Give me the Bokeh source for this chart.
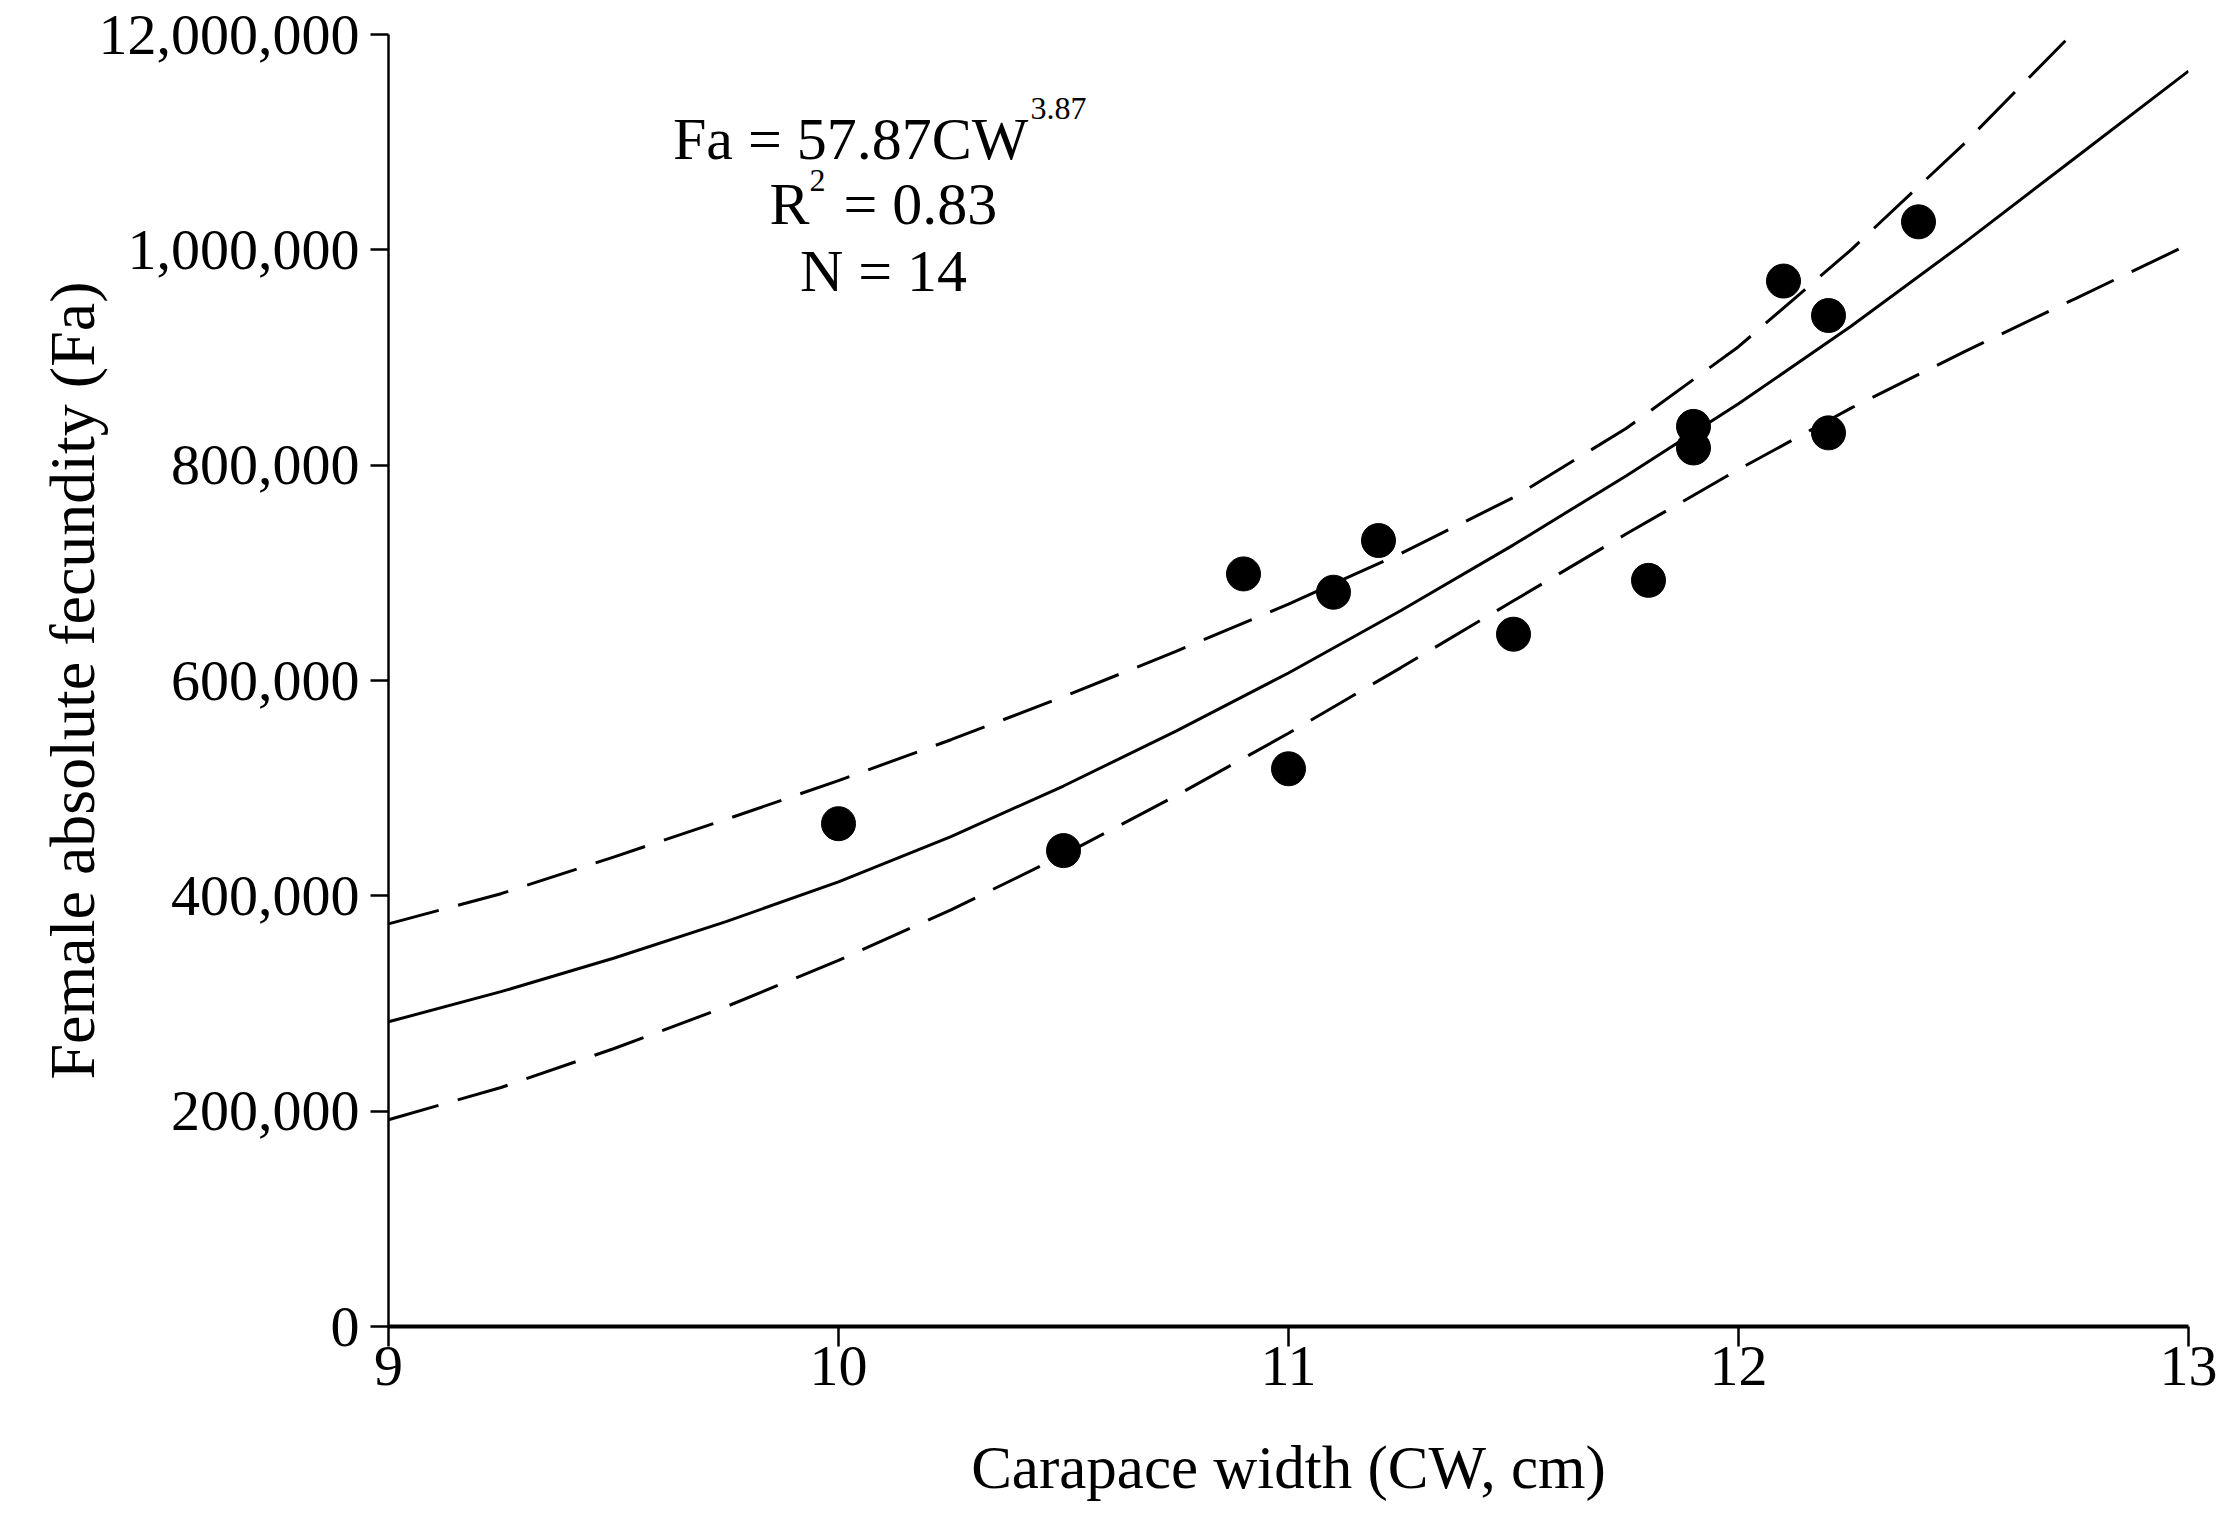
from bokeh.plotting import figure
from bokeh.models import Range1d, FixedTicker, Label
from bokeh.embed import file_html
from bokeh.resources import INLINE

# Observed data: carapace width (cm) and female absolute fecundity
cw = [10.0, 10.5, 10.9, 11.0, 11.1, 11.2, 11.5, 11.8, 11.9, 11.9, 12.1, 12.2, 12.2, 12.4]
fa = [467000, 442000, 699000, 518000, 682000, 730000, 643000, 693000,
      836000, 816000, 971000, 939000, 830000, 1026000]

# Fitted curve
fit_cw = [9.0, 9.25, 9.5, 9.75, 10.0, 10.25, 10.5, 10.75, 11.0,
          11.25, 11.5, 11.75, 12.0, 12.25, 12.5, 12.75, 13.0]
fit_fa = [283000, 311000, 342000, 376000, 413000, 455000, 502000, 553000, 607000,
          665000, 726000, 790000, 857000, 929000, 1006000, 1086000, 1166000]

# Upper dashed bound
upper_cw = [9.0, 9.25, 9.5, 9.75, 10.0, 10.25, 10.5, 10.75, 11.0,
            11.25, 11.5, 11.75, 12.0, 12.25, 12.5, 12.74]
upper_fa = [374000, 402000, 436000, 471000, 507000, 545000, 585000, 627000, 671000,
            718000, 770000, 834000, 910000, 1000000, 1098000, 1200000]

# Lower dashed bound
lower_cw = [9.0, 9.25, 9.5, 9.75, 10.0, 10.25, 10.5, 10.75, 11.0,
            11.25, 11.5, 11.75, 12.0, 12.25, 12.5, 12.75, 13.0]
lower_fa = [192000, 222000, 258000, 297000, 340000, 387000, 438000, 493000, 551000,
            612000, 674000, 736000, 796000, 853000, 905000, 955000, 1005000]

x_ticks = [9, 10, 11, 12, 13]
y_ticks = [0, 200000, 400000, 600000, 800000, 1000000, 1200000]
y_tick_labels = ["0", "200,000", "400,000", "600,000", "800,000", "1,000,000", "12,000,000"]

x_title = "Carapace width (CW, cm)"
y_title = "Female absolute fecundity (Fa)"

FONT = "Liberation Serif"

p = figure(width=2218, height=1510, output_backend="svg", toolbar_location=None,
           x_range=Range1d(9, 13), y_range=Range1d(0, 1200000),
           min_border_left=388, min_border_right=30,
           min_border_top=34, min_border_bottom=184)
p.outline_line_color = None
p.grid.visible = False
p.background_fill_color = "white"
p.border_fill_color = "white"

# x axis
xa = p.xaxis[0]
xa.ticker = FixedTicker(ticks=x_ticks)
xa.axis_line_width = 4
xa.axis_line_color = "black"
xa.major_tick_out = 20
xa.major_tick_in = 0
xa.minor_tick_out = 0
xa.minor_tick_in = 0
xa.major_tick_line_width = 2.5
xa.major_label_text_font = FONT
xa.major_label_text_font_size = "58px"
xa.major_label_text_color = "black"
xa.major_label_standoff = 0
xa.axis_label = x_title
xa.axis_label_text_font = FONT
xa.axis_label_text_font_size = "61px"
xa.axis_label_text_font_style = "normal"
xa.axis_label_text_color = "black"
xa.axis_label_standoff = 46

# y axis
ya = p.yaxis[0]
ya.ticker = FixedTicker(ticks=y_ticks)
ya.major_label_overrides = {t: s for t, s in zip(y_ticks, y_tick_labels)}
ya.axis_line_width = 2.5
ya.axis_line_color = "black"
ya.major_tick_out = 18
ya.major_tick_in = 0
ya.minor_tick_out = 0
ya.minor_tick_in = 0
ya.major_tick_line_width = 2.5
ya.major_label_text_font = FONT
ya.major_label_text_font_size = "58px"
ya.major_label_text_color = "black"
ya.major_label_standoff = 11
ya.axis_label = y_title
ya.axis_label_text_font = FONT
ya.axis_label_text_font_size = "64px"
ya.axis_label_text_font_style = "normal"
ya.axis_label_text_color = "black"
ya.axis_label_standoff = -12

# curves
p.line(fit_cw, fit_fa, line_color="black", line_width=3)
p.line(upper_cw, upper_fa, line_color="black", line_width=3, line_dash="52 20")
p.line(lower_cw, lower_fa, line_color="black", line_width=3, line_dash="52 20")

# points
p.scatter(cw, fa, marker="circle", size=34, fill_color="black", line_color="black")

# equation annotation
def lab(x, y, text, size, align):
    p.add_layout(Label(x=x, y=y, text=text, text_font=FONT, text_font_size=size,
                       text_align=align, text_baseline="alphabetic", text_color="black"))

lab(10.4222, 1103400, "Fa = 57.87CW", "60px", "right")
lab(10.4267, 1131300, "3.87", "32px", "left")
lab(9.8467, 1043000, "R", "60px", "left")
lab(9.9356, 1064400, "2", "32px", "left")
lab(10.0111, 1043000, "= 0.83", "60px", "left")
lab(10.1, 980800, "N = 14", "60px", "center")

open("out.html", "w").write(file_html(p, INLINE))
